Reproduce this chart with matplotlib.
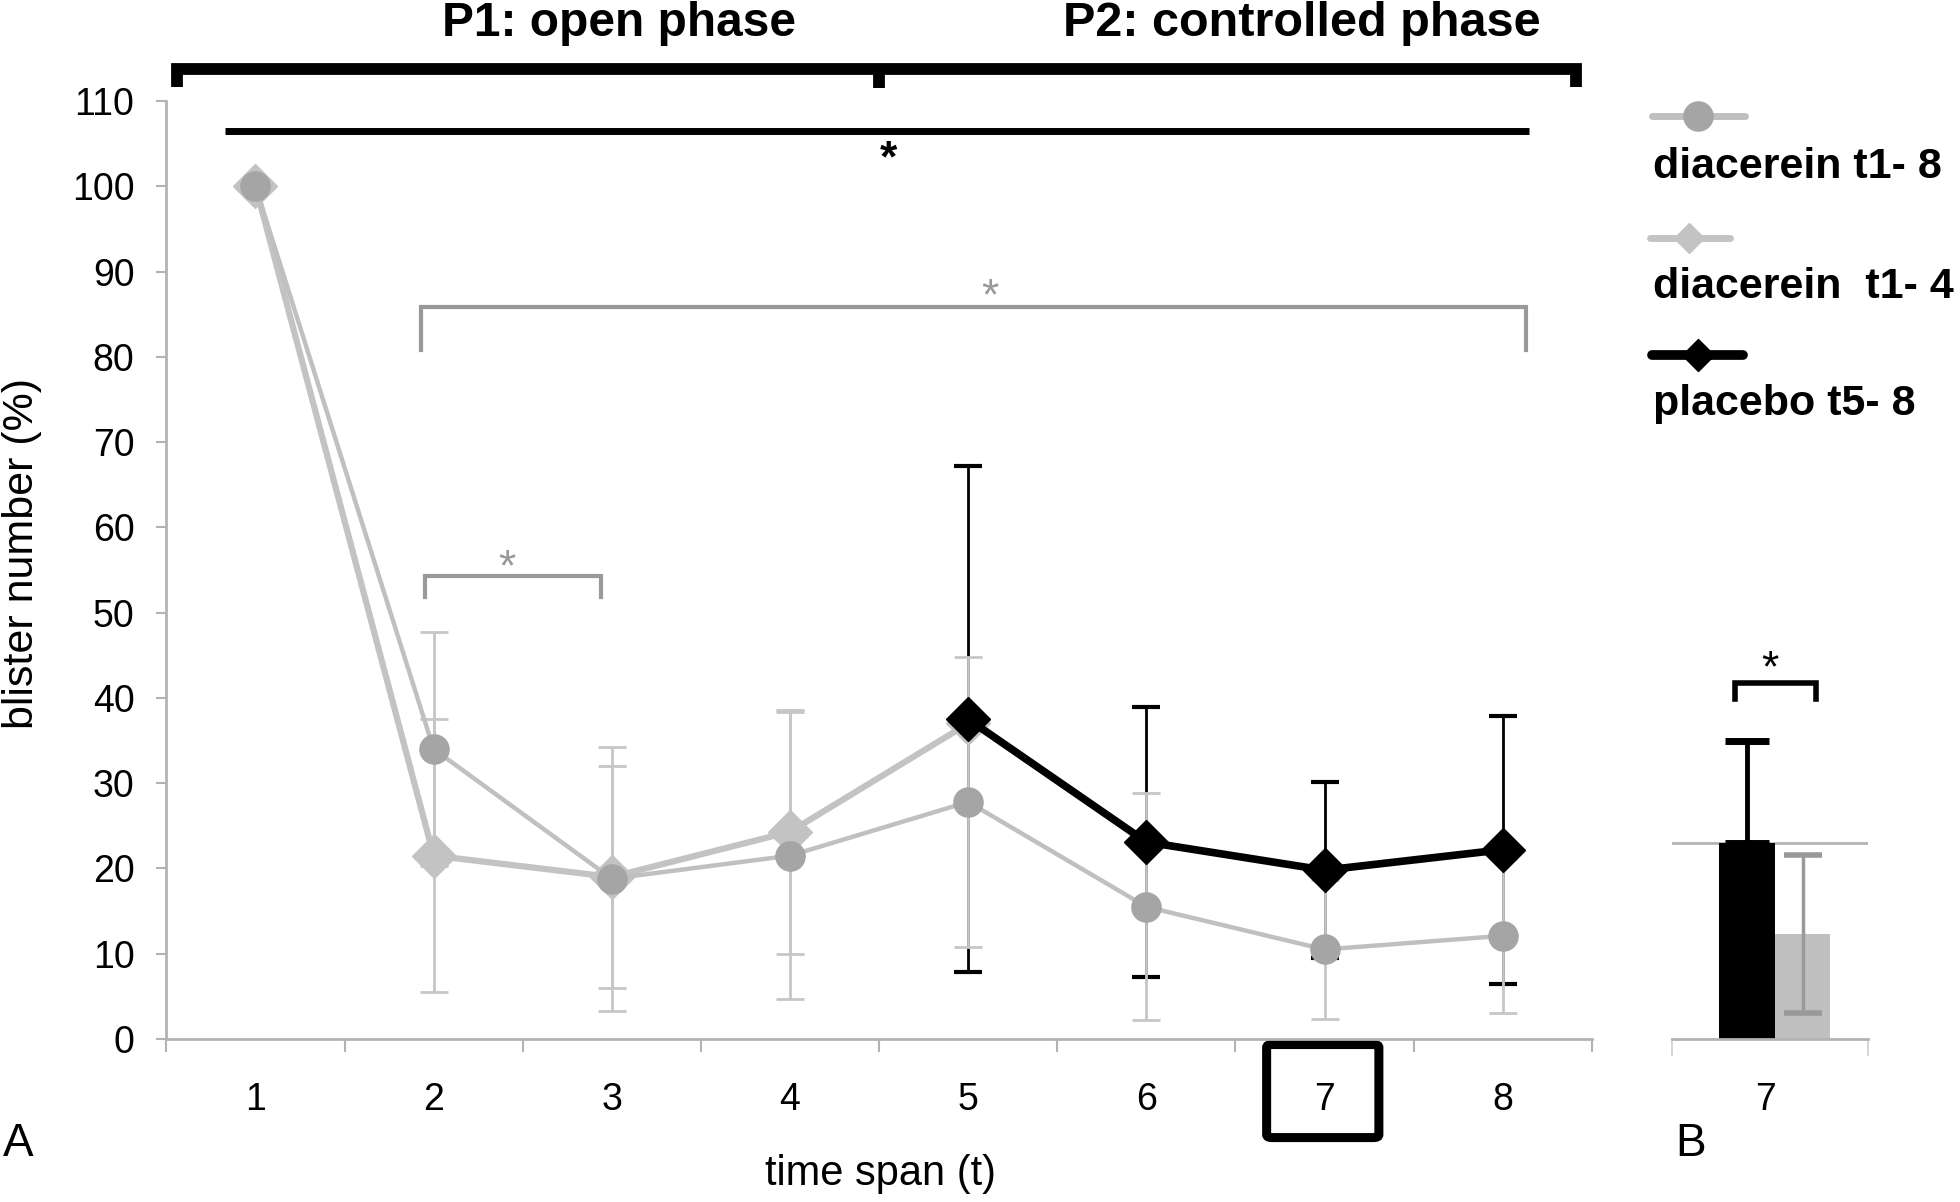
import numpy as np
import matplotlib
matplotlib.use("Agg")
import matplotlib.pyplot as plt
from matplotlib.patches import FancyBboxPatch
from matplotlib.transforms import ScaledTranslation

plt.rcParams['font.family'] = ['Liberation Sans', 'DejaVu Sans']

# data
time_points = [1, 2, 3, 4, 5, 6, 7, 8]
diac_18_mean = [100, 34.0, 18.8, 21.5, 27.8, 15.5, 10.5, 12.1]
diac_18_err = [0, 13.7, 15.5, 16.8, 17.0, 13.3, 8.1, 9.0]
diac_14_t = [1, 2, 3, 4, 5]
diac_14_mean = [100, 21.5, 19.0, 24.3, 37.0]
diac_14_err = [0, 16.0, 13.0, 14.3, 0]
placebo_t = [5, 6, 7, 8]
placebo_mean = [37.5, 23.1, 19.8, 22.2]
placebo_err = [29.7, 15.8, 10.3, 15.7]

# panel B (t7)
bar_labels = ['placebo', 'diacerein']
bar_mean = [23.0, 12.3]
bar_err = [12.0, 9.3]

y_ticks = list(range(0, 111, 10))

CIRC_MK = '#a5a5a5'
CIRC_LN = '#c0c0c0'
DIAM = '#c3c3c3'
ERR_GRAY = '#c6c6c6'
BR_GRAY = '#999999'
SPINE = '#b3b3b3'

W, H = 1960, 1202
fig = plt.figure(figsize=(W / 100, H / 100), dpi=100)


def px_axes(l, t, r, b):
    return fig.add_axes([l / W, 1 - b / H, (r - l) / W, (b - t) / H])


def star(a, x, y, color, size=32, weight='normal'):
    off = ScaledTranslation(0, -0.58 * size / 72, fig.dpi_scale_trans)
    a.text(x, y, '*', color=color, fontsize=size, fontweight=weight,
           ha='center', va='baseline', transform=a.transData + off,
           clip_on=False)


ax = px_axes(166.4, 101, 1591.8, 1039)
axb = px_axes(1671.5, 101, 1868, 1039)
ov = fig.add_axes([0, 0, 1, 1])
ov.set_xlim(0, W)
ov.set_ylim(H, 0)
ov.axis('off')

# ---- panel A ----
ax.errorbar(placebo_t, placebo_mean, yerr=placebo_err, fmt='none',
            ecolor='black', elinewidth=2, capsize=10, capthick=3, zorder=1)
ax.errorbar(time_points, diac_18_mean, yerr=diac_18_err, fmt='none',
            ecolor=ERR_GRAY, elinewidth=2, capsize=10, capthick=2, zorder=2)
ax.errorbar(diac_14_t, diac_14_mean, yerr=diac_14_err, fmt='none',
            ecolor=ERR_GRAY, elinewidth=2, capsize=10, capthick=2, zorder=2)
ax.plot(diac_14_t, diac_14_mean, color=DIAM, lw=4.5, marker='D',
        ms=22, mfc=DIAM, mec=DIAM, zorder=3)
ax.plot(time_points, diac_18_mean, color=CIRC_LN, lw=3.2, marker='o',
        ms=21, mfc=CIRC_MK, mec=CIRC_MK, zorder=4)
ax.plot(placebo_t, placebo_mean, color='black', lw=5.5, marker='D',
        ms=22, mfc='black', mec='black', zorder=5)

ax.set_xlim(0.5, 8.45)
ax.set_ylim(0, 110)
ax.set_xticks(time_points)
ax.set_xticks(np.arange(0.5, 8.6, 1), minor=True)
ax.set_yticks(y_ticks)
ax.tick_params(axis='x', which='major', length=0, pad=31, labelsize=27)
ax.tick_params(axis='x', which='minor', length=9, width=1.5, color=SPINE,
               direction='out')
ax.tick_params(axis='y', length=7, width=1.5, color=SPINE, pad=16,
               labelsize=27)
for s in ['top', 'right']:
    ax.spines[s].set_visible(False)
for s in ['left', 'bottom']:
    ax.spines[s].set_color(SPINE)
    ax.spines[s].set_linewidth(2)

ax.set_ylabel('blister number (%)', fontsize=31)
ax.yaxis.set_label_coords(-0.0873, 0.518)
ax.set_xlabel('time span (t)', fontsize=30)
ax.xaxis.set_label_coords(0.501, -0.123)

# phase brackets
ax.plot([0.557, 0.557, 8.41, 8.41], [111.6, 113.7, 113.7, 111.6],
        color='black', lw=8.5, clip_on=False, solid_capstyle='butt',
        solid_joinstyle='miter')
ax.plot([4.5, 4.5], [113.7, 111.5], color='black', lw=8.5, clip_on=False,
        solid_capstyle='butt')
ax.text(3.04, 117.6, 'P1: open phase', fontsize=34.5, fontweight='bold',
        ha='center', va='baseline', clip_on=False)
ax.text(6.87, 117.6, 'P2: controlled phase', fontsize=35, fontweight='bold',
        ha='center', va='baseline', clip_on=False)

# significance marks
ax.plot([0.83, 8.15], [106.5, 106.5], color='black', lw=5, clip_on=False,
        solid_capstyle='butt')
star(ax, 4.55, 104.8, 'black', weight='bold')
ax.plot([1.93, 1.93, 8.13, 8.13], [80.8, 85.8, 85.8, 80.8], color=BR_GRAY,
        lw=3, solid_joinstyle='miter')
star(ax, 5.12, 88.6, BR_GRAY)
ax.plot([1.95, 1.95, 2.94, 2.94], [51.8, 54.3, 54.3, 51.8], color=BR_GRAY,
        lw=3, solid_joinstyle='miter')
star(ax, 2.41, 56.8, BR_GRAY)

# box around t7 label
ax.add_patch(FancyBboxPatch((6.675, -11.56), 0.63, 10.91,
                            boxstyle='round,pad=0,rounding_size=0.03',
                            mutation_aspect=12, fill=False,
                            edgecolor='black', lw=6.5, clip_on=False))

# ---- panel B ----
axb.axhline(bar_mean[0], color=SPINE, lw=2, zorder=1)
axb.bar([0, 1], bar_mean, width=1.0, color=['black', '#bfbfbf'], zorder=2)
axb.errorbar([0], [bar_mean[0]], yerr=[[0], [bar_err[0]]], fmt='none',
             ecolor='black', elinewidth=3.5, capsize=16, capthick=5, zorder=3)
axb.errorbar([1], [bar_mean[1]], yerr=[bar_err[1]], fmt='none',
             ecolor=BR_GRAY, elinewidth=2.5, capsize=14, capthick=4, zorder=3)
axb.set_xlim(-1.36, 2.18)
axb.set_ylim(0, 110)
axb.set_yticks([])
axb.set_xticks([0.34])
axb.set_xticklabels(['7'])
axb.set_xticks([-1.36, 2.18], minor=True)
axb.tick_params(axis='x', which='major', length=0, pad=31, labelsize=27)
axb.tick_params(axis='x', which='minor', length=12, width=1.2, color='#d0d0d0')
for s in ['top', 'right', 'left']:
    axb.spines[s].set_visible(False)
axb.spines['bottom'].set_color(SPINE)
axb.spines['bottom'].set_linewidth(2)
axb.plot([-0.22, -0.22, 1.24, 1.24], [39.9, 41.8, 41.8, 39.9], color='black',
         lw=4, solid_joinstyle='miter', clip_on=False)
star(axb, 0.41, 45.0, 'black')

# ---- legend ----
ov.plot([1652, 1745], [116, 116], color=CIRC_LN, lw=5, solid_capstyle='round')
ov.plot([1698], [116], marker='o', ms=21, color=CIRC_MK)
ov.text(1653, 178, 'diacerein t1- 8', fontsize=31, fontweight='bold',
        va='baseline')
ov.plot([1650, 1730], [238, 238], color=DIAM, lw=5, solid_capstyle='round')
ov.plot([1689], [238], marker='D', ms=15, color=DIAM)
ov.text(1653, 298, 'diacerein  t1- 4', fontsize=31, fontweight='bold',
        va='baseline')
ov.plot([1652, 1743], [355, 355], color='black', lw=7, solid_capstyle='round')
ov.plot([1698], [355], marker='D', ms=16.5, color='black')
ov.text(1653, 415, 'placebo t5- 8', fontsize=31, fontweight='bold',
        va='baseline')

ov.text(3, 1156, 'A', fontsize=33, va='baseline')
ov.text(1675, 1156, 'B', fontsize=33, va='baseline')

fig.savefig('out.png', dpi=100)
